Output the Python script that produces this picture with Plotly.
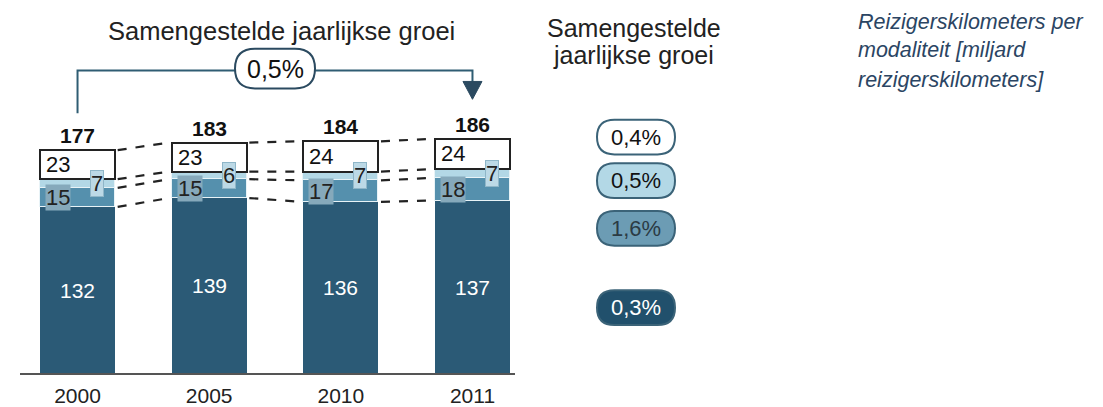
import plotly.graph_objects as go

years = ["2000", "2005", "2010", "2011"]
dark_vals = [132, 139, 136, 137]
medium_vals = [15, 15, 17, 18]
light_vals = [7, 6, 7, 7]
top_vals = [23, 23, 24, 24]
totals = [177, 183, 184, 186]
cagr_total = "0,5%"
cagr_segments = ["0,4%", "0,5%", "1,6%", "0,3%"]  # top, light, medium, dark

OFF = 8                      # page body margin of the html page
PW, PH = 1103, 407           # browser window
W, H = PW - OFF, PH - OFF    # figure size
FONT = "Liberation Sans, Arial, sans-serif"
C_DARK = "#2b5a76"
C_MED = "#5590ad"
C_LIGHT = "#b3d8e6"
C_LINE = "#2f5d73"

def px(x):
    return (x - OFF) / W

def py(y):
    return 1 - (y - OFF) / H

def pill_path(cx, cy, w, h, r=None):
    if r is None:
        r = h / 2
    x0, x1 = cx - w / 2, cx + w / 2
    y0, y1 = cy - h / 2, cy + h / 2
    def P(x, y):
        return f"{px(x):.5f},{py(y):.5f}"
    d = f"M {P(x0 + r, y0)} L {P(x1 - r, y0)} Q {P(x1, y0)} {P(x1, y0 + r)} "
    d += f"L {P(x1, y1 - r)} Q {P(x1, y1)} {P(x1 - r, y1)} L {P(x0 + r, y1)} "
    d += f"Q {P(x0, y1)} {P(x0, y1 - r)} L {P(x0, y0 + r)} Q {P(x0, y0)} {P(x0 + r, y0)} Z"
    return d

xs = list(range(len(years)))
BW = 0.57
BASE_PY = 376      # baseline page y
SCALE = 1.27       # px per unit

fig = go.Figure()
fig.add_trace(go.Bar(x=xs, y=dark_vals, width=BW, marker=dict(color=C_DARK, line=dict(width=0)),
                     text=[str(v) for v in dark_vals], textposition="inside", insidetextanchor="middle",
                     textfont=dict(color="white", size=21, family=FONT), hoverinfo="skip"))
fig.add_trace(go.Bar(x=xs, y=medium_vals, width=BW,
                     marker=dict(color=C_MED, line=dict(width=1, color="#e8f3f7")), hoverinfo="skip"))
fig.add_trace(go.Bar(x=xs, y=light_vals, width=BW,
                     marker=dict(color=C_LIGHT, line=dict(width=1, color="#e8f3f7")), hoverinfo="skip"))
fig.add_trace(go.Bar(x=xs, y=top_vals, width=BW, marker=dict(color="white", line=dict(color="#222", width=2)), hoverinfo="skip"))

# dashed connectors between bars
for i in range(len(years) - 1):
    levels_a = [dark_vals[i], dark_vals[i] + medium_vals[i],
                dark_vals[i] + medium_vals[i] + light_vals[i], totals[i]]
    levels_b = [dark_vals[i + 1], dark_vals[i + 1] + medium_vals[i + 1],
                dark_vals[i + 1] + medium_vals[i + 1] + light_vals[i + 1], totals[i + 1]]
    for la, lb in zip(levels_a, levels_b):
        fig.add_trace(go.Scatter(x=[i + BW / 2 + 0.02, i + 1 - BW / 2 - 0.02], y=[la, lb], mode="lines",
                                 line=dict(color="#222", width=2.2, dash="dash"), hoverinfo="skip"))

annotations = []
for i in xs:
    d, m, l, t = dark_vals[i], medium_vals[i], light_vals[i], top_vals[i]
    annotations.append(dict(x=i, y=totals[i], xref="x", yref="y", text=f"<b>{totals[i]}</b>",
                            showarrow=False, xanchor="center", yanchor="bottom", yshift=1,
                            font=dict(size=21, family=FONT, color="#111")))
    annotations.append(dict(x=i - 0.148, y=d + m / 2, xref="x", yref="y", text=str(m),
                            showarrow=False, xanchor="center", yanchor="middle",
                            bgcolor="#86a9bb", borderpad=0,
                            font=dict(size=22, family=FONT, color="#222")))
    annotations.append(dict(x=i + 0.148, y=d + m + l / 2, xref="x", yref="y", text=str(l),
                            showarrow=False, xanchor="center", yanchor="middle",
                            bgcolor="#bcd9e6", bordercolor="#8fb6c8", borderwidth=1,
                            borderpad=0, font=dict(size=22, family=FONT, color="#222")))
    annotations.append(dict(x=i - 0.148, y=d + m + l + t / 2, xref="x", yref="y", text=str(t),
                            showarrow=False, xanchor="center", yanchor="middle",
                            font=dict(size=22, family=FONT, color="#111")))

# overall CAGR bracket
def val(page_y):
    return (BASE_PY - page_y) / SCALE

y_top = val(71)
fig.add_trace(go.Scatter(x=[0, 0, 3, 3], y=[val(114), y_top, y_top, val(83)], mode="lines",
                         line=dict(color=C_LINE, width=2), hoverinfo="skip"))

shapes = []
tri_half = 9.5 / 131.67
shapes.append(dict(type="path", xref="x", yref="y",
                   path=f"M {3 - tri_half},{val(82)} L {3 + tri_half},{val(82)} L 3,{val(100)} Z",
                   fillcolor="#2b4a60", line=dict(color="#2b4a60", width=1)))
shapes.append(dict(type="path", xref="paper", yref="paper", path=pill_path(275, 69, 80, 40),
                   fillcolor="white", line=dict(color="#2b4a60", width=2), layer="above"))
annotations.append(dict(x=px(275), y=py(69), xref="paper", yref="paper", text=cagr_total, showarrow=False,
                        xanchor="center", yanchor="middle",
                        font=dict(size=25, family=FONT, color="#111")))

annotations.append(dict(x=px(281), y=py(31), xref="paper", yref="paper",
                        text="Samengestelde jaarlijkse groei", showarrow=False,
                        xanchor="center", yanchor="middle",
                        font=dict(size=25.5, family=FONT, color="#222")))
for txt, yy in zip(["Samengestelde", "jaarlijkse groei"], [28, 55]):
    annotations.append(dict(x=px(634), y=py(yy), xref="paper", yref="paper",
                            text=txt, showarrow=False, xanchor="center", yanchor="middle",
                            font=dict(size=25, family=FONT, color="#222")))
annotations.append(dict(x=px(856), y=1, xref="paper", yref="paper", xanchor="left",
                        yanchor="top", text="<i>Reizigerskilometers per</i>", showarrow=False,
                        font=dict(size=21.5, family=FONT, color="#2b4563")))
for txt, yy in zip(["modaliteit [miljard", "reizigerskilometers]"], [50, 81]):
    annotations.append(dict(x=px(856), y=py(yy), xref="paper", yref="paper", xanchor="left",
                            yanchor="middle", text=f"<i>{txt}</i>", showarrow=False,
                            font=dict(size=21.5, family=FONT, color="#2b4563")))

pill_y = [138, 182, 230, 310]
pill_fill = ["white", C_LIGHT, "#6c9cb4", "#21506c"]
pill_text = ["#111", "#111", "#2b3b44", "white"]
for lab, yy, fc, tc in zip(cagr_segments, pill_y, pill_fill, pill_text):
    shapes.append(dict(type="path", xref="paper", yref="paper", path=pill_path(636, yy, 78, 35),
                       fillcolor=fc, line=dict(color="#3b6378", width=2), layer="above"))
    annotations.append(dict(x=px(636), y=py(yy), xref="paper", yref="paper", text=lab, showarrow=False,
                            xanchor="center", yanchor="middle",
                            font=dict(size=22, family=FONT, color=tc)))

fig.update_layout(
    width=W, height=H, margin=dict(l=0, r=0, t=0, b=0),
    paper_bgcolor="white", plot_bgcolor="white",
    barmode="stack", bargap=0, showlegend=False,
    shapes=shapes, annotations=annotations,
    xaxis=dict(domain=[px(20), px(515)], range=[-0.437, 3.323], tickmode="array", tickvals=xs,
               ticktext=years, showgrid=False, zeroline=False, showline=True, linecolor="#555",
               linewidth=1.5, ticks="outside", ticklen=3, tickcolor="rgba(0,0,0,0)",
               tickfont=dict(size=21, family=FONT, color="#222"), fixedrange=True),
    yaxis=dict(domain=[1 - (BASE_PY - OFF) / H, 1], range=[0, val(OFF)], visible=False, fixedrange=True),
)
fig.write_html("out.html")
